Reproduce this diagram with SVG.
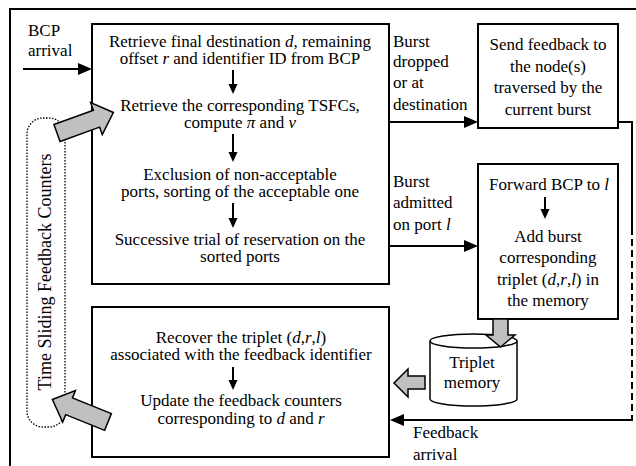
<svg xmlns="http://www.w3.org/2000/svg" width="636" height="466" viewBox="0 0 636 466">
<style>
text{font-family:"Liberation Serif","Times New Roman",serif;font-size:17px;fill:#000}
.c{text-anchor:middle}
.i{font-style:italic}
.box{fill:#fff;stroke:#000;stroke-width:2}
.ln{fill:none;stroke:#000;stroke-width:2}
.sm{fill:none;stroke:#000;stroke-width:2;marker-end:url(#sa)}
.blk{fill:#c0c0c0;stroke:#000;stroke-width:1.5;stroke-linejoin:miter}
</style>
<defs>
<marker id="ah" viewBox="0 0 14 12" refX="6" refY="6" markerWidth="14" markerHeight="12" orient="auto" markerUnits="userSpaceOnUse"><path d="M0,0 L14,6 L0,12 z" fill="#000"/></marker>
<marker id="sa" viewBox="0 0 10 10" refX="4" refY="5" markerWidth="10" markerHeight="10" orient="auto" markerUnits="userSpaceOnUse"><path d="M0,0.5 L10,5 L0,9.5 z" fill="#000"/></marker>
</defs>
<rect width="636" height="466" fill="#fff"/>
<g id="frame"><path class="ln" d="M10,466 V9 H636" stroke-width="2.5"/></g>

<g id="tsfc">
<rect x="27" y="118" width="38" height="309" rx="16" fill="none" stroke="#000" stroke-width="1.3" stroke-dasharray="1.5,1.5"/>
<text transform="translate(51,272) rotate(-90)" class="c" style="font-size:18px">Time Sliding Feedback Counters</text>
</g>

<g id="box-main">
<rect class="box" x="92" y="24" width="297" height="260"/>
<text class="c" x="240" y="47">Retrieve final destination <tspan class="i">d</tspan>, remaining</text>
<text class="c" x="240" y="64">offset <tspan class="i">r</tspan> and identifier ID from BCP</text>
<text class="c" x="240" y="111">Retrieve the corresponding TSFCs,</text>
<text class="c" x="240" y="128">compute <tspan class="i">π</tspan> and <tspan class="i">ν</tspan></text>
<text class="c" x="240" y="180">Exclusion of non-acceptable</text>
<text class="c" x="240" y="197">ports, sorting of the acceptable one</text>
<text class="c" x="240" y="245">Successive trial of reservation on the</text>
<text class="c" x="240" y="262">sorted ports</text>
<path class="sm" d="M233,70 V88"/>
<path class="sm" d="M233,134 V156"/>
<path class="sm" d="M233,203 V222"/>
</g>

<g id="box-update">
<rect class="box" x="92" y="307" width="297" height="150"/>
<text class="c" x="241" y="343">Recover the triplet (<tspan class="i">d</tspan>,<tspan class="i">r</tspan>,<tspan class="i">l</tspan>)</text>
<text class="c" x="241" y="360">associated with the feedback identifier</text>
<text class="c" x="241" y="406">Update the feedback counters</text>
<text class="c" x="241" y="424">corresponding to <tspan class="i">d</tspan> and <tspan class="i">r</tspan></text>
<path class="sm" d="M233,367 V384"/>
</g>

<g id="box-send">
<rect class="box" x="478" y="24" width="140" height="104"/>
<text class="c" x="548" y="50">Send feedback to</text>
<text class="c" x="548" y="72">the node(s)</text>
<text class="c" x="548" y="93">traversed by the</text>
<text class="c" x="548" y="115">current burst</text>
</g>

<g id="box-forward">
<rect class="box" x="478" y="164" width="140" height="155"/>
<text class="c" x="549" y="190">Forward BCP to <tspan class="i">l</tspan></text>
<path class="sm" d="M545,197 V213"/>
<text class="c" x="548" y="242">Add burst</text>
<text class="c" x="548" y="263">corresponding</text>
<text class="c" x="548" y="285">triplet (<tspan class="i">d</tspan>,<tspan class="i">r</tspan>,<tspan class="i">l</tspan>) in</text>
<text class="c" x="548" y="306">the memory</text>
</g>

<g id="memory">
<path d="M430,341 V399 A43.5,7 0 0 0 517,399 V341" fill="#fff" stroke="#000" stroke-width="1.5"/>
<ellipse cx="473.5" cy="341" rx="43.5" ry="7" fill="#fff" stroke="#000" stroke-width="1.5"/>
<text class="c" x="472" y="368">Triplet</text>
<text class="c" x="472" y="388">memory</text>
</g>

<g id="labels">
<text x="28" y="36">BCP</text>
<text x="28" y="56">arrival</text>
<text x="393" y="47">Burst</text>
<text x="393" y="67">dropped</text>
<text x="393" y="88">or at</text>
<text x="393" y="110">destination</text>
<text x="393" y="187">Burst</text>
<text x="393" y="208">admitted</text>
<text x="393" y="230">on port <tspan class="i">l</tspan></text>
<text x="413" y="438">Feedback</text>
<text x="413" y="460">arrival</text>
</g>

<g id="connectors">
<path class="ln" d="M23,69 H84" marker-end="url(#ah)"/>
<path class="ln" d="M389,122 H470" marker-end="url(#ah)"/>
<path class="ln" d="M389,246 H470" marker-end="url(#ah)"/>
<path class="ln" d="M618,122 H632 V228"/>
<path class="ln" d="M632,228 V420" stroke-dasharray="7,4"/>
<path class="ln" d="M632,419 V420 H398" marker-end="url(#ah)"/>
<polygon class="blk" points="493,319 508,319 508,335 515,335 500.5,347 486,335 493,335"/>
<polygon class="blk" points="425,376 425,389 408,389 408,397 394,383 408,369 408,376"/>
<polygon class="blk" transform="translate(57,133) rotate(-20)" points="0,-9 42,-9 42,-17 60,0 42,17 42,9 0,9"/>
<polygon class="blk" transform="translate(108,422) rotate(202)" points="0,-9 42,-9 42,-17 60,0 42,17 42,9 0,9"/>
</g>
</svg>
